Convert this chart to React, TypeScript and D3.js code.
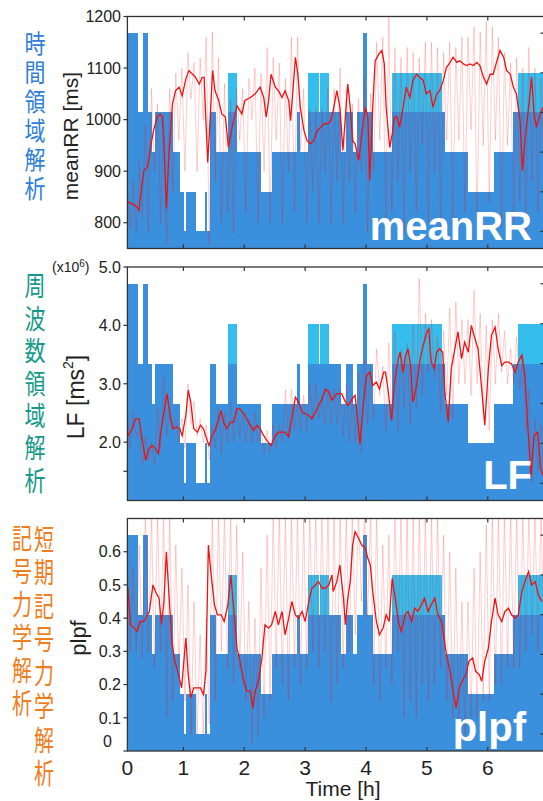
import React from "react";
import * as d3 from "d3";

// hypnogram shared by all panels: block start [h] and level (0 deepest .. 3 light, 4 = REM, 5 = wake)
const stageStart = [
  0.08, 0.26, 0.34, 0.42, 0.49, 0.54, 0.83, 0.94, 1.01, 1.05,
  1.21, 1.36, 1.39, 1.44, 1.53, 1.73, 1.88, 2.28, 2.45, 2.86,
  2.91, 3.05, 3.22, 3.25, 3.39, 3.59, 3.67, 3.79, 3.85, 3.95,
  4.02, 4.12, 4.42, 5.24, 5.29, 5.68, 6.1, 6.42, 6.5,
];
const stageLevel = [
  5, 3, 5, 3, 2, 3, 2, 1, 0, 1,
  0, 1, 0, 3, 2, 4, 2, 1, 2, 3,
  2, 4, 3, 4, 3, 2, 3, 2, 3, 5,
  3, 2, 4, 3, 2, 1, 2, 3, 4,
];
const recordEnd = 6.93;

// raw beat-to-beat envelope, one high/low pair every 0.1 h (0.1 .. 6.9)
const rawTimes = d3.range(1, 70).map((i) => i / 10);

const meanRRSmooth: [number, number][] = [
  [0.09, 840], [0.16, 837], [0.24, 830], [0.27, 824], [0.3, 856], [0.35, 901], [0.41, 908], [0.46, 946],
  [0.51, 979], [0.57, 1005], [0.62, 1011], [0.65, 1005], [0.68, 959], [0.72, 827], [0.76, 927], [0.82, 1030],
  [0.87, 1056], [0.93, 1063], [0.98, 1046], [1.04, 1079], [1.09, 1095], [1.15, 1088], [1.2, 1082], [1.26, 1069],
  [1.31, 1082], [1.34, 1082], [1.36, 1024], [1.4, 917], [1.44, 1005], [1.48, 1095], [1.52, 1056], [1.58, 1037],
  [1.63, 1011], [1.69, 1005], [1.74, 946], [1.8, 985], [1.88, 1027], [1.96, 1011], [2.01, 1037], [2.1, 1043],
  [2.18, 1050], [2.26, 1063], [2.32, 1043], [2.36, 1005], [2.4, 1037], [2.44, 1088], [2.51, 1063], [2.56, 1056],
  [2.62, 1043], [2.67, 1056], [2.73, 1037], [2.76, 998], [2.79, 1043], [2.84, 1121], [2.88, 1088], [2.92, 1024],
  [2.98, 979], [3.03, 959], [3.09, 953], [3.14, 959], [3.2, 979], [3.25, 985], [3.31, 992], [3.36, 992],
  [3.41, 995], [3.46, 1017], [3.52, 1056], [3.57, 1024], [3.62, 940], [3.66, 1005], [3.7, 1069], [3.74, 1024],
  [3.78, 959], [3.82, 953], [3.88, 921], [3.93, 972], [3.99, 1024], [4.03, 1005], [4.06, 882], [4.11, 1024],
  [4.15, 1114], [4.21, 1127], [4.26, 1134], [4.3, 1108], [4.33, 1024], [4.39, 946], [4.43, 972], [4.47, 1005],
  [4.51, 1005], [4.55, 985], [4.61, 1024], [4.66, 1063], [4.72, 1043], [4.77, 1076], [4.83, 1088], [4.88, 1082],
  [4.94, 1076], [4.99, 1050], [5.05, 1056], [5.1, 1024], [5.16, 1050], [5.21, 1056], [5.27, 1076], [5.32, 1101],
  [5.38, 1111], [5.43, 1121], [5.49, 1111], [5.54, 1114], [5.6, 1108], [5.65, 1105], [5.71, 1108], [5.76, 1105],
  [5.82, 1111], [5.87, 1105], [5.93, 1082], [5.98, 1069], [6.04, 1088], [6.09, 1088], [6.15, 1114], [6.2, 1134],
  [6.26, 1121], [6.31, 1095], [6.37, 1088], [6.42, 1063], [6.47, 1050], [6.53, 998], [6.57, 901], [6.61, 959],
  [6.67, 1024], [6.72, 1082], [6.76, 1011], [6.8, 985], [6.86, 1011], [6.91, 1024],
];
const meanRRHigh = [
  870, 880, 920, 990, 1060, 1030, 1010, 1060, 1090, 1100,
  1130, 1110, 1120, 1160, 1170, 1120, 1070, 1040, 1060, 1060,
  1080, 1100, 1090, 1140, 1120, 1110, 1080, 1160, 1160, 1060,
  1020, 1020, 1020, 1060, 1060, 1100, 1060, 1030, 1040, 1080,
  1050, 1150, 1160, 1200, 1140, 1120, 1140, 1130, 1120, 1150,
  1150, 1140, 1130, 1150, 1140, 1160, 1160, 1180, 1170, 1190,
  1180, 1160, 1130, 1110, 1120, 1100, 1140, 1100, 1080,
];
const meanRRLow = [
  790, 780, 810, 780, 900, 800, 760, 860, 960, 900,
  1040, 900, 1000, 760, 880, 800, 820, 780, 960, 820,
  1000, 800, 900, 800, 960, 800, 900, 820, 940, 800,
  860, 800, 900, 800, 880, 800, 880, 820, 900, 780,
  900, 960, 800, 820, 880, 780, 900, 820, 950, 800,
  900, 790, 960, 800, 960, 820, 980, 800, 950, 840,
  960, 790, 950, 800, 840, 780, 880, 820, 900,
];

const lfSmooth: [number, number][] = [
  [0.09, 2.11], [0.16, 2.23], [0.21, 2.4], [0.27, 2.4], [0.32, 2.06], [0.38, 1.69], [0.43, 1.89], [0.49, 1.94],
  [0.54, 1.89], [0.59, 1.8], [0.62, 2.11], [0.68, 2.51], [0.73, 2.83], [0.79, 2.4], [0.83, 2.23], [0.88, 2.26],
  [0.94, 2.23], [0.98, 2.11], [1.04, 2.46], [1.08, 2.89], [1.12, 2.69], [1.17, 2.23], [1.23, 2.17], [1.28, 2.29],
  [1.33, 2.23], [1.38, 2.06], [1.42, 1.94], [1.47, 2.11], [1.52, 2.2], [1.58, 2.4], [1.62, 2.54], [1.66, 2.34],
  [1.71, 2.23], [1.77, 2.34], [1.82, 2.34], [1.88, 2.57], [1.93, 2.57], [1.99, 2.49], [2.04, 2.4], [2.1, 2.29],
  [2.15, 2.2], [2.21, 2.29], [2.26, 2.23], [2.32, 2.11], [2.37, 2.03], [2.44, 1.94], [2.51, 2.11], [2.56, 2.17],
  [2.62, 2.17], [2.67, 2.17], [2.73, 2.09], [2.78, 2.4], [2.84, 2.77], [2.89, 2.69], [2.95, 2.51], [3.0, 2.49],
  [3.06, 2.46], [3.11, 2.4], [3.17, 2.51], [3.22, 2.63], [3.28, 2.74], [3.33, 2.91], [3.39, 2.86], [3.44, 2.72],
  [3.5, 2.8], [3.52, 2.83], [3.6, 2.83], [3.66, 2.69], [3.71, 2.63], [3.77, 2.74], [3.82, 2.8], [3.86, 2.4],
  [3.9, 1.97], [3.96, 2.69], [4.01, 3.14], [4.06, 3.2], [4.11, 2.97], [4.17, 3.03], [4.22, 2.91], [4.29, 3.2],
  [4.32, 3.2], [4.36, 2.91], [4.42, 2.37], [4.47, 3.03], [4.53, 3.43], [4.56, 3.54], [4.61, 3.2], [4.65, 3.49],
  [4.69, 3.6], [4.73, 3.31], [4.77, 2.69], [4.82, 2.91], [4.86, 3.2], [4.89, 3.43], [4.94, 3.66], [4.99, 3.86],
  [5.03, 3.94], [5.07, 3.37], [5.12, 3.26], [5.16, 3.54], [5.21, 3.6], [5.26, 3.54], [5.29, 2.91], [5.35, 2.34],
  [5.4, 3.26], [5.46, 3.6], [5.51, 3.89], [5.57, 3.43], [5.62, 3.71], [5.68, 3.54], [5.73, 4.0], [5.79, 3.77],
  [5.84, 3.6], [5.9, 2.91], [5.95, 2.29], [6.01, 3.26], [6.06, 3.83], [6.12, 3.97], [6.17, 3.6], [6.23, 3.31],
  [6.28, 3.37], [6.34, 3.37], [6.39, 3.34], [6.45, 3.2], [6.5, 3.37], [6.56, 3.49], [6.61, 3.14], [6.66, 2.23],
  [6.71, 1.43], [6.76, 2.11], [6.82, 2.17], [6.87, 1.54], [6.91, 1.43],
];
const lfHigh = [
  2.5, 2.5, 2.2, 2.1, 2.0, 2.6, 3.1, 2.6, 2.4, 2.4,
  3.0, 2.7, 2.4, 2.3, 2.3, 2.6, 2.5, 2.7, 2.6, 2.5,
  2.4, 2.5, 2.2, 2.2, 2.3, 2.3, 2.9, 2.9, 2.7, 2.8,
  3.0, 3.0, 2.8, 2.9, 2.9, 2.9, 3.0, 2.8, 3.2, 3.4,
  3.3, 3.6, 3.3, 3.7, 3.9, 3.6, 3.7, 4.0, 4.8, 4.2,
  4.1, 3.8, 3.9, 4.3, 4.4, 4.1, 4.1, 4.6, 4.2, 4.0,
  4.1, 4.2, 3.9, 3.6, 3.8, 3.5, 2.9, 2.4, 2.3,
];
const lfLow = [
  1.9, 2.1, 1.6, 1.7, 1.6, 1.9, 2.1, 2.2, 2.0, 1.9,
  2.3, 2.1, 2.0, 1.7, 1.9, 1.8, 2.0, 2.0, 2.1, 2.0,
  2.0, 2.0, 1.8, 1.8, 1.9, 2.0, 2.1, 2.2, 2.2, 2.2,
  2.4, 2.4, 2.3, 2.3, 2.3, 2.1, 2.0, 2.0, 1.8, 2.3,
  2.4, 2.8, 2.2, 2.4, 2.2, 2.6, 2.3, 2.6, 2.8, 3.2,
  3.1, 2.5, 2.8, 2.4, 3.0, 3.0, 2.8, 3.0, 2.5, 2.2,
  3.0, 3.2, 3.0, 3.0, 2.9, 2.2, 1.3, 1.5, 1.3,
];

const plpfSmooth: [number, number][] = [
  [0.09, 0.49], [0.13, 0.38], [0.19, 0.37], [0.24, 0.36], [0.29, 0.39], [0.35, 0.39], [0.41, 0.41], [0.44, 0.42],
  [0.5, 0.5], [0.54, 0.48], [0.6, 0.46], [0.64, 0.38], [0.68, 0.45], [0.72, 0.6], [0.76, 0.48], [0.81, 0.33],
  [0.86, 0.27], [0.92, 0.23], [0.97, 0.19], [1.04, 0.34], [1.08, 0.23], [1.12, 0.16], [1.17, 0.19], [1.23, 0.19],
  [1.28, 0.19], [1.33, 0.17], [1.37, 0.24], [1.41, 0.62], [1.45, 0.54], [1.51, 0.44], [1.56, 0.41], [1.62, 0.41],
  [1.67, 0.39], [1.73, 0.44], [1.78, 0.53], [1.82, 0.44], [1.88, 0.31], [1.93, 0.27], [1.99, 0.21], [2.04, 0.18],
  [2.1, 0.18], [2.14, 0.13], [2.18, 0.18], [2.23, 0.21], [2.29, 0.28], [2.34, 0.38], [2.4, 0.37], [2.45, 0.38],
  [2.51, 0.42], [2.56, 0.38], [2.62, 0.42], [2.67, 0.35], [2.73, 0.4], [2.78, 0.45], [2.84, 0.41], [2.89, 0.4],
  [2.95, 0.42], [3.0, 0.39], [3.06, 0.45], [3.11, 0.49], [3.17, 0.5], [3.22, 0.51], [3.28, 0.49], [3.33, 0.49],
  [3.39, 0.5], [3.44, 0.53], [3.46, 0.48], [3.52, 0.51], [3.57, 0.56], [3.63, 0.46], [3.66, 0.38], [3.7, 0.46],
  [3.74, 0.51], [3.78, 0.62], [3.82, 0.66], [3.88, 0.64], [3.93, 0.62], [3.99, 0.61], [4.03, 0.58], [4.07, 0.56],
  [4.11, 0.48], [4.17, 0.39], [4.22, 0.35], [4.28, 0.37], [4.33, 0.41], [4.38, 0.39], [4.43, 0.52], [4.48, 0.46],
  [4.53, 0.39], [4.58, 0.36], [4.64, 0.41], [4.69, 0.42], [4.75, 0.39], [4.8, 0.43], [4.85, 0.42], [4.91, 0.44],
  [4.96, 0.46], [5.02, 0.42], [5.07, 0.44], [5.13, 0.46], [5.18, 0.41], [5.24, 0.39], [5.29, 0.33], [5.32, 0.29],
  [5.38, 0.24], [5.43, 0.18], [5.48, 0.13], [5.53, 0.19], [5.58, 0.21], [5.64, 0.23], [5.69, 0.27], [5.75, 0.28],
  [5.8, 0.24], [5.86, 0.23], [5.9, 0.21], [5.95, 0.27], [6.01, 0.31], [6.06, 0.39], [6.12, 0.46], [6.17, 0.41],
  [6.23, 0.39], [6.28, 0.42], [6.34, 0.43], [6.39, 0.41], [6.45, 0.4], [6.5, 0.41], [6.56, 0.48], [6.61, 0.51],
  [6.67, 0.54], [6.72, 0.5], [6.78, 0.51], [6.83, 0.47], [6.89, 0.45],
];
const plpfHigh = [
  0.6, 0.55, 0.62, 0.72, 0.72, 0.72, 0.72, 0.72, 0.62, 0.55,
  0.5, 0.45, 0.35, 0.4, 0.72, 0.72, 0.72, 0.72, 0.68, 0.6,
  0.45, 0.4, 0.55, 0.65, 0.72, 0.72, 0.72, 0.72, 0.72, 0.72,
  0.72, 0.72, 0.72, 0.72, 0.72, 0.72, 0.72, 0.72, 0.72, 0.72,
  0.72, 0.72, 0.62, 0.65, 0.72, 0.72, 0.72, 0.72, 0.72, 0.72,
  0.72, 0.72, 0.65, 0.6, 0.55, 0.45, 0.45, 0.55, 0.6, 0.68,
  0.72, 0.72, 0.72, 0.72, 0.72, 0.72, 0.72, 0.72, 0.72,
];
const plpfLow = [
  0.3, 0.3, 0.28, 0.3, 0.25, 0.3, 0.1, 0.15, 0.25, 0.15,
  0.05, 0.05, 0.05, 0.08, 0.15, 0.3, 0.25, 0.2, 0.25, 0.15,
  0.02, 0.05, 0.1, 0.15, 0.25, 0.2, 0.15, 0.25, 0.2, 0.25,
  0.3, 0.25, 0.3, 0.15, 0.2, 0.25, 0.3, 0.35, 0.45, 0.4,
  0.2, 0.15, 0.25, 0.2, 0.3, 0.1, 0.15, 0.1, 0.2, 0.15,
  0.2, 0.25, 0.15, 0.1, 0.05, 0.05, 0.1, 0.1, 0.15, 0.15,
  0.2, 0.2, 0.25, 0.25, 0.25, 0.3, 0.35, 0.3, 0.3,
];

const hourTicks = [0, 1, 2, 3, 4, 5, 6];
const meanRRTicks = [800, 900, 1000, 1100, 1200];
const lfTicks = [1.5, 2, 3, 4, 5];
const plpfTicks = [0, 0.1, 0.2, 0.3, 0.4, 0.5, 0.6];
const stageTicks = [0, 1, 2, 3, 4, 5];

const BLUE = "#3a90dc";
const CYAN = "#35bdee";
const AXIS = "#333";
const FONT = "'Liberation Sans', Arial, Helvetica, sans-serif";
const CJK = "'Noto Sans CJK JP', 'Noto Sans CJK SC', sans-serif";

const X0 = 127.4;
const X1 = 544.4;
const x = d3.scaleLinear().domain([0.08, recordEnd]).range([X0, X1]).clamp(true);

type PanelProps = {
  id: string;
  top: number;
  bottom: number;
  domain: [number, number];
  ticks: number[];
  fmt: (v: number) => string;
  smooth: [number, number][];
  high: number[];
  low: number[];
  name: string;
  nameX: number;
  nameY: number;
};

function Panel(p: PanelProps) {
  const y = d3.scaleLinear().domain(p.domain).range([p.bottom, p.top]);
  const hy = d3.scaleLinear().domain([-0.43, 5.42]).range([p.bottom, p.top]);
  const blocks = stageStart.map((t, i) => ({
    t0: t,
    t1: i < stageStart.length - 1 ? stageStart[i + 1] : recordEnd,
    lv: stageLevel[i],
  }));
  const line = d3
    .line<[number, number]>()
    .x((d) => x(d[0]))
    .y((d) => y(d[1]));
  const raw: [number, number][] = [];
  rawTimes.forEach((t, i) => {
    raw.push([t - 0.025, p.high[i]], [t + 0.025, p.low[i]]);
  });
  const clip = `clip-${p.id}`;
  return (
    <g>
      <defs>
        <clipPath id={clip}>
          <rect x={X0} y={p.top} width={X1 - X0} height={p.bottom - p.top} />
        </clipPath>
      </defs>
      <g clipPath={`url(#${clip})`}>
        {blocks.map((b, i) => {
          const dark = b.lv === 4 ? 3 : b.lv;
          return (
            <g key={i} shapeRendering="crispEdges">
              <rect x={x(b.t0)} width={x(b.t1) - x(b.t0)} y={hy(dark)} height={p.bottom - hy(dark)} fill={BLUE} />
              {b.lv === 4 && (
                <rect x={x(b.t0)} width={x(b.t1) - x(b.t0)} y={hy(4)} height={hy(3) - hy(4)} fill={CYAN} />
              )}
            </g>
          );
        })}
        <path d={line(raw) || ""} fill="none" stroke="#ff1010" strokeOpacity={0.26} strokeWidth={0.8} />
        <path d={line(p.smooth) || ""} fill="none" stroke="#ee1111" strokeWidth={1.3} />
      </g>
      <rect x={X0} y={p.top} width={X1 - X0} height={p.bottom - p.top} fill="none" stroke={AXIS} strokeWidth={1.3} />
      {hourTicks.slice(1).map((h) => (
        <g key={h} stroke={AXIS} strokeWidth={1.2}>
          <line x1={x(h)} x2={x(h)} y1={p.top} y2={p.top + 4} />
          <line x1={x(h)} x2={x(h)} y1={p.bottom} y2={p.bottom - 4} />
        </g>
      ))}
      {stageTicks.map((s) => (
        <line key={s} x1={X1 - 4} x2={X1} y1={hy(s)} y2={hy(s)} stroke={AXIS} strokeWidth={1.2} />
      ))}
      {p.ticks.map((t) => (
        <g key={t}>
          <line x1={X0 - 4} x2={X0} y1={y(t)} y2={y(t)} stroke={AXIS} strokeWidth={1.2} />
          {p.fmt(t) !== "" && (
            <text
              x={t === p.domain[0] ? 112 : 121}
              y={t === p.domain[0] ? y(t) - 10 : y(t)}
              dy="0.36em"
              textAnchor="end"
              fontSize={16}
              fontFamily={FONT}
              fill="#222"
            >
              {p.fmt(t)}
            </text>
          )}
        </g>
      ))}
      <text x={p.nameX} y={p.nameY} textAnchor="end" fontSize={40} fontWeight="bold" fontFamily={FONT} fill="#fff">
        {p.name}
      </text>
    </g>
  );
}

// one vertical column of Japanese text (single text element, upright glyphs)
function VText({ text, cx, top, step, size, sy, color }: { text: string; cx: number; top: number; step: number; size: number; sy: number; color: string }) {
  return (
    <text
      transform={`translate(${cx},${top}) scale(1,${sy})`}
      x={0}
      y={0}
      fill={color}
      fontFamily={CJK}
      fontSize={size}
      style={{ writingMode: "vertical-rl", textOrientation: "upright" } as React.CSSProperties}
      letterSpacing={step / sy - size}
    >
      {text}
    </text>
  );
}

export default function App() {
  return (
    <svg width={543} height={801} style={{ display: "block", position: "absolute", left: 0, top: 0 }}>
      <rect width={543} height={801} fill="#fff" />
      <Panel
        id="rr"
        top={16.5}
        bottom={248.5}
        domain={[750, 1200]}
        ticks={meanRRTicks}
        fmt={(v) => String(v)}
        smooth={meanRRSmooth}
        high={meanRRHigh}
        low={meanRRLow}
        name="meanRR"
        nameX={532}
        nameY={240}
      />
      <Panel
        id="lf"
        top={267}
        bottom={500.5}
        domain={[1, 5]}
        ticks={lfTicks}
        fmt={(v) => (Number.isInteger(v) ? v.toFixed(1) : "")}
        smooth={lfSmooth}
        high={lfHigh}
        low={lfLow}
        name="LF"
        nameX={532}
        nameY={489}
      />
      <Panel
        id="pl"
        top={518.5}
        bottom={751}
        domain={[0, 0.7]}
        ticks={plpfTicks}
        fmt={(v) => (v === 0 ? "0" : v.toFixed(1))}
        smooth={plpfSmooth}
        high={plpfHigh}
        low={plpfLow}
        name="plpf"
        nameX={526}
        nameY={741}
      />

      {/* x axis */}
      {hourTicks.map((h) => (
        <text key={h} x={x(h)} y={775} textAnchor="middle" fontSize={21} fontFamily={FONT} fill="#222">
          {h}
        </text>
      ))}
      <text x={343} y={796} textAnchor="middle" fontSize={21} fontFamily={FONT} fill="#222">
        Time [h]
      </text>

      {/* y axis titles */}
      <text transform="translate(70,136) rotate(-90)" textAnchor="middle" dominantBaseline="central" fontSize={21} fontFamily={FONT} fill="#222">
        meanRR [ms]
      </text>
      <text transform="translate(76,397) rotate(-90)" textAnchor="middle" dominantBaseline="central" fontSize={23} fontFamily={FONT} fill="#222">
        LF [ms<tspan dy="-8" fontSize={14}>2</tspan><tspan dy="8">]</tspan>
      </text>
      <text transform="translate(78,638) rotate(-90)" textAnchor="middle" dominantBaseline="central" fontSize={22} fontFamily={FONT} fill="#222">
        plpf
      </text>
      <text x={52} y={272} fontSize={14} fontFamily={FONT} fill="#222">
        (x10<tspan dy="-5" fontSize={10}>6</tspan><tspan dy="5">)</tspan>
      </text>

      {/* Japanese category labels */}
      <VText text="時間領域解析" cx={35} top={31} step={29} size={21} sy={1.2} color="#2f80d6" />
      <VText text="周波数領域解析" cx={35} top={272} step={32.5} size={21} sy={1.3} color="#16998a" />
      <VText text="記号力学解析" cx={22} top={524} step={33} size={20} sy={1.4} color="#f07d1e" />
      <VText text="短期記号力学解析" cx={44} top={525} step={33.5} size={20} sy={1.4} color="#f07d1e" />
    </svg>
  );
}
